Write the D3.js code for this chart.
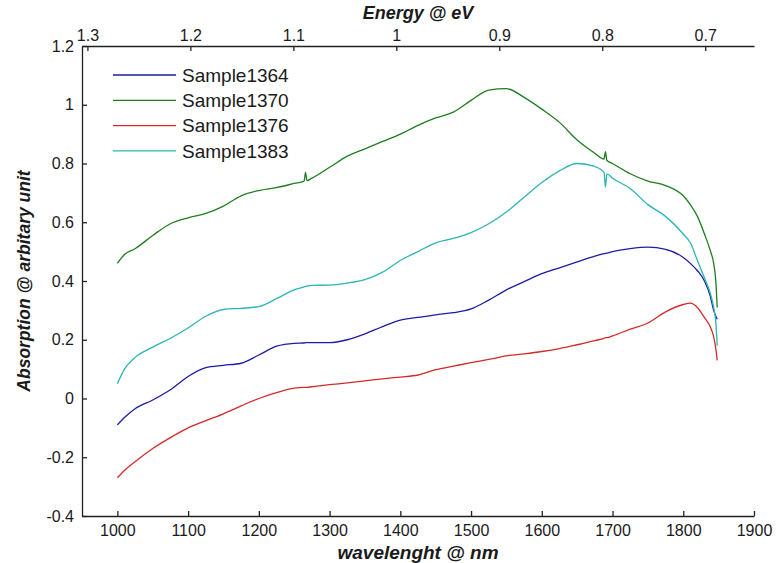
<!DOCTYPE html>
<html>
<head>
<meta charset="utf-8">
<script src="https://cdn.jsdelivr.net/npm/d3@7"></script>
<style>
  body { margin: 0; background: #fff; }
  text { font-family: "Liberation Sans", Arial, sans-serif; fill: #1a1a1a; }
  .title { font-weight: bold; font-style: italic; }
</style>
</head>
<body>
<div id="chart"></div>
<script>
// wavelength grid (nm) shared by all samples
var wavelength = [1000, 1010, 1025, 1050, 1075, 1100, 1125, 1150, 1175, 1200, 1225, 1250,
    1264, 1266, 1268, 1275, 1300, 1325, 1350, 1375, 1400, 1425, 1450, 1475, 1500, 1525,
    1550, 1575, 1600, 1625, 1650, 1675, 1688, 1690, 1692, 1700, 1725, 1750, 1775, 1800,
    1810, 1820, 1830, 1838, 1843, 1846, 1848];

var sample1364 = [-0.09, -0.065, -0.035, -0.005, 0.03, 0.075, 0.105, 0.113, 0.12, 0.148, 0.178, 0.188,
    0.189, 0.19, 0.19, 0.19, 0.19, 0.2, 0.22, 0.245, 0.267, 0.276, 0.285, 0.292, 0.305, 0.335,
    0.37, 0.398, 0.425, 0.445, 0.465, 0.485, 0.493, 0.494, 0.495, 0.5, 0.51, 0.515, 0.508, 0.48,
    0.46, 0.435, 0.40, 0.35, 0.30, 0.28, 0.27];

var sample1370 = [0.46, 0.49, 0.51, 0.555, 0.595, 0.615, 0.63, 0.655, 0.69, 0.708, 0.718, 0.732,
    0.74, 0.77, 0.742, 0.75, 0.787, 0.825, 0.85, 0.875, 0.90, 0.93, 0.955, 0.975, 1.015, 1.05,
    1.055, 1.025, 0.985, 0.94, 0.88, 0.835, 0.815, 0.84, 0.81, 0.80, 0.765, 0.74, 0.725, 0.69,
    0.66, 0.62, 0.56, 0.505, 0.46, 0.40, 0.31];

var sample1376 = [-0.27, -0.245, -0.215, -0.17, -0.133, -0.10, -0.075, -0.052, -0.025, 0.0, 0.02, 0.035,
    0.038, 0.038, 0.038, 0.04, 0.047, 0.053, 0.06, 0.067, 0.073, 0.08, 0.098, 0.11, 0.122, 0.133,
    0.145, 0.152, 0.16, 0.17, 0.183, 0.197, 0.205, 0.207, 0.207, 0.213, 0.236, 0.257, 0.295, 0.32,
    0.325, 0.31, 0.275, 0.245, 0.21, 0.17, 0.13];

var sample1383 = [0.05, 0.10, 0.14, 0.175, 0.205, 0.24, 0.28, 0.303, 0.307, 0.313, 0.34, 0.37,
    0.38, 0.382, 0.383, 0.385, 0.386, 0.393, 0.405, 0.43, 0.47, 0.50, 0.53, 0.545, 0.565, 0.595,
    0.635, 0.685, 0.735, 0.775, 0.80, 0.79, 0.77, 0.72, 0.765, 0.75, 0.715, 0.66, 0.62, 0.56,
    0.53, 0.47, 0.41, 0.36, 0.31, 0.26, 0.18];

var seriesNames = ["Sample1364", "Sample1370", "Sample1376", "Sample1383"];
var seriesColors = ["#1c1ca8", "#1f7d1f", "#d42a2a", "#2bb5b5"];

var xTicks = [1000, 1100, 1200, 1300, 1400, 1500, 1600, 1700, 1800, 1900];
var yTicks = [-0.4, -0.2, 0, 0.2, 0.4, 0.6, 0.8, 1, 1.2];
var energyTicks = [1.3, 1.2, 1.1, 1, 0.9, 0.8, 0.7];

var series = [sample1364, sample1370, sample1376, sample1383].map(function(vals, i) {
    return {
        name: seriesNames[i],
        color: seriesColors[i],
        values: vals.map(function(v, j) { return {wl: wavelength[j], v: v}; })
    };
});

var margin = {top: 46, right: 23, bottom: 47, left: 82};
var width = 777 - margin.left - margin.right,
    height = 563 - margin.top - margin.bottom;

var svg = d3.select("#chart").append("svg")
    .attr("width", 777)
    .attr("height", 563)
  .append("g")
    .attr("transform", "translate(" + margin.left + "," + margin.top + ")");

var x = d3.scaleLinear().domain([950, 1900]).range([0, width]);
var y = d3.scaleLinear().domain([-0.4, 1.2]).range([height, 0]);
// energy axis: E = 1240 / wavelength, linear in eV
var xE = d3.scaleLinear().domain([1240 / 950, 1240 / 1900]).range([0, width]);

var fmt = function(d) { return String(+d.toFixed(1)); };

var xAxis = d3.axisBottom(x).tickValues(xTicks).tickSizeInner(-5).tickSizeOuter(0).tickPadding(9).tickFormat(d3.format("d"));
var yAxis = d3.axisLeft(y).tickValues(yTicks).tickSizeInner(-5).tickSizeOuter(0).tickPadding(8).tickFormat(fmt);
var eAxis = d3.axisTop(xE).tickValues(energyTicks).tickSizeInner(-5).tickSizeOuter(0).tickPadding(5).tickFormat(fmt);

function styleAxis(g) {
    g.selectAll("path").attr("stroke", "#222").attr("stroke-width", 1.3);
    g.selectAll("line").attr("stroke", "#222").attr("stroke-width", 1.3);
    g.selectAll("text").attr("font-size", 16).attr("fill", "#1a1a1a")
        .attr("font-family", "Liberation Sans, Arial, sans-serif");
}

svg.append("g").attr("transform", "translate(0," + height + ")").call(xAxis).call(styleAxis);
svg.append("g").call(yAxis).call(styleAxis);
svg.append("g").call(eAxis).call(styleAxis);

var line = d3.line()
    .curve(d3.curveMonotoneX)
    .x(function(d) { return x(d.wl); })
    .y(function(d) { return y(d.v); });

svg.selectAll(".series")
    .data(series)
  .enter().append("path")
    .attr("class", "series")
    .attr("fill", "none")
    .attr("stroke", function(d) { return d.color; })
    .attr("stroke-width", 1.3)
    .attr("d", function(d) { return line(d.values); });

// legend (no box)
var legend = svg.selectAll(".legend")
    .data(series)
  .enter().append("g")
    .attr("class", "legend")
    .attr("transform", function(d, i) { return "translate(31," + (29 + i * 25.3) + ")"; });

legend.append("line")
    .attr("x1", 0).attr("x2", 63)
    .attr("stroke", function(d) { return d.color; })
    .attr("stroke-width", 1.3);

legend.append("text")
    .attr("x", 69)
    .attr("dy", "0.36em")
    .attr("font-size", 19)
    .text(function(d) { return d.name; });

// axis titles
svg.append("text")
    .attr("class", "title")
    .attr("x", width / 2)
    .attr("y", height + 43)
    .attr("text-anchor", "middle")
    .attr("font-size", 19)
    .text("wavelenght @ nm");

svg.append("text")
    .attr("class", "title")
    .attr("x", width / 2)
    .attr("y", -27)
    .attr("text-anchor", "middle")
    .attr("font-size", 18)
    .text("Energy @ eV");

svg.append("text")
    .attr("class", "title")
    .attr("transform", "translate(-52," + (height / 2) + ") rotate(-90)")
    .attr("text-anchor", "middle")
    .attr("font-size", 17.5)
    .text("Absorption @ arbitary unit");
</script>
</body>
</html>
